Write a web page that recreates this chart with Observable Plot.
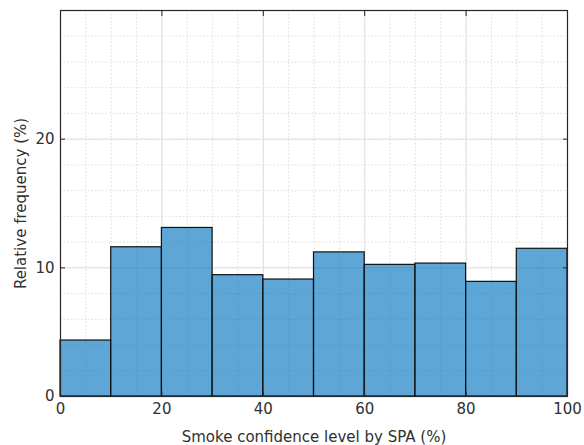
<!DOCTYPE html>
<html><head><meta charset="utf-8">
<script src="https://cdn.jsdelivr.net/npm/d3@7"></script>
<script src="https://cdn.jsdelivr.net/npm/@observablehq/plot@0.6"></script>
<style>body{margin:0;background:#fff}</style>
</head><body><div id="chart"></div>
<script>
const binStart = [0, 10, 20, 30, 40, 50, 60, 70, 80, 90];
const binEnd = [10, 20, 30, 40, 50, 60, 70, 80, 90, 100];
const freq = [4.35, 11.6, 13.1, 9.43, 9.09, 11.2, 10.23, 10.33, 8.91, 11.48];
const xTicks = [0, 20, 40, 60, 80, 100];
const yTicks = [0, 10, 20];
const xMinor = d3.range(0, 101, 5);
const yMinor = d3.range(0, 31, 2);

const bins = binStart.map((s, i) => ({x1: s, x2: binEnd[i], y: freq[i]}));
const txt = "#303030";
const chart = Plot.plot({
  width: 584, height: 445,
  marginLeft: 60, marginRight: 17, marginTop: 10, marginBottom: 49,
  style: {fontFamily: "DejaVu Sans", fontSize: "15px", color: txt, background: "#fff"},
  x: {domain: [0, 100]},
  y: {domain: [0, 30]},
  marks: [
    Plot.ruleX(xMinor, {stroke: "#d4d4d4", strokeDasharray: "1.5,2", strokeWidth: 0.8}),
    Plot.ruleY(yMinor, {stroke: "#d4d4d4", strokeDasharray: "1.5,2", strokeWidth: 0.8}),
    Plot.ruleX(xTicks, {stroke: "#e0e0e0", strokeWidth: 1}),
    Plot.ruleY(yTicks, {stroke: "#e0e0e0", strokeWidth: 1}),
    Plot.rectY(bins, {x1: "x1", x2: "x2", y: "y", fill: "#0072bd", fillOpacity: 0.63, stroke: "#111", strokeWidth: 1.2, inset: 0}),
    Plot.frame({stroke: "#262626", strokeWidth: 1.2}),
    Plot.axisX(xTicks, {anchor: "bottom", tickSize: -5, text: null, label: null, stroke: "#262626"}),
    Plot.axisX(xTicks, {anchor: "top", tickSize: -5, text: null, label: null, stroke: "#262626"}),
    Plot.axisY(yTicks, {anchor: "left", tickSize: -5, text: null, label: null, stroke: "#262626"}),
    Plot.axisY(yTicks, {anchor: "right", tickSize: -5, text: null, label: null, stroke: "#262626"}),
    Plot.axisX(xTicks, {anchor: "bottom", tickSize: 0, tickPadding: 7, fontSize: 15, fill: txt,
      label: "Smoke confidence level by SPA (%)", labelAnchor: "center", labelArrow: "none", labelOffset: 45}),
    Plot.axisY(yTicks, {anchor: "left", tickSize: 0, tickPadding: 6, fontSize: 15, fill: txt,
      label: "Relative frequency (%)", labelAnchor: "center", labelArrow: "none", labelOffset: 45})
  ]
});
document.getElementById("chart").append(chart);
</script>
</body></html>
